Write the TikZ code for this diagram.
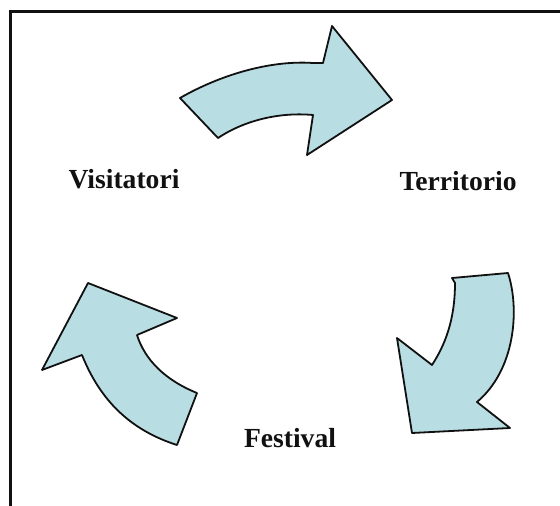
\documentclass[tikz,border=0pt]{standalone}
\usepackage{fontspec}
\setmainfont{Liberation Serif}
\usepackage{tikz}
\usepackage{xcolor}
\usetikzlibrary{positioning}
\definecolor{cArrow}{HTML}{B8DDE2}
\definecolor{cInk}{HTML}{111111}
\tikzset{
  arr/.style  ={draw=cInk,fill=cArrow,line width=1.8pt,line join=round},
  lbl/.style  ={anchor=base,inner sep=0pt,text=cInk,
                font=\fontsize{27.6}{30}\selectfont\bfseries},
  frame/.style={draw=cInk,line width=3pt},
}

\begin{document}
\begin{tikzpicture}[x=1pt,y=-1pt]
\useasboundingbox (0,0) rectangle (560,506);
\draw[frame] (10,506) -- (10,11) -- (560,11);
% labels
\node[lbl] (vis) at (124,188) {Visitatori};
\node[lbl] (ter) at (458,190) {Territorio};
\node[lbl] (fes) at (290,447) {Festival};
% arrows of the cycle
\draw[arr] (180,98) .. controls (220,75) and (270,60) .. (313,63) -- (323,63)
  -- (332,26) -- (392,100) -- (307,155) -- (313,115)
  .. controls (280,112) and (245,120) .. (218,138) -- cycle;
\draw[arr] (452,278) -- (508,273) .. controls (520,310) and (515,370) .. (477,402)
  -- (510,428) -- (412,433) -- (397,338) -- (432,365)
  .. controls (445,345) and (455,320) .. (455,283) -- cycle;
\draw[arr] (88,283) -- (177,318) -- (137,335)
  .. controls (145,360) and (165,380) .. (197,393) -- (177,445)
  .. controls (130,430) and (100,400) .. (82,355) -- (42,370) -- cycle;
\end{tikzpicture}
\end{document}
